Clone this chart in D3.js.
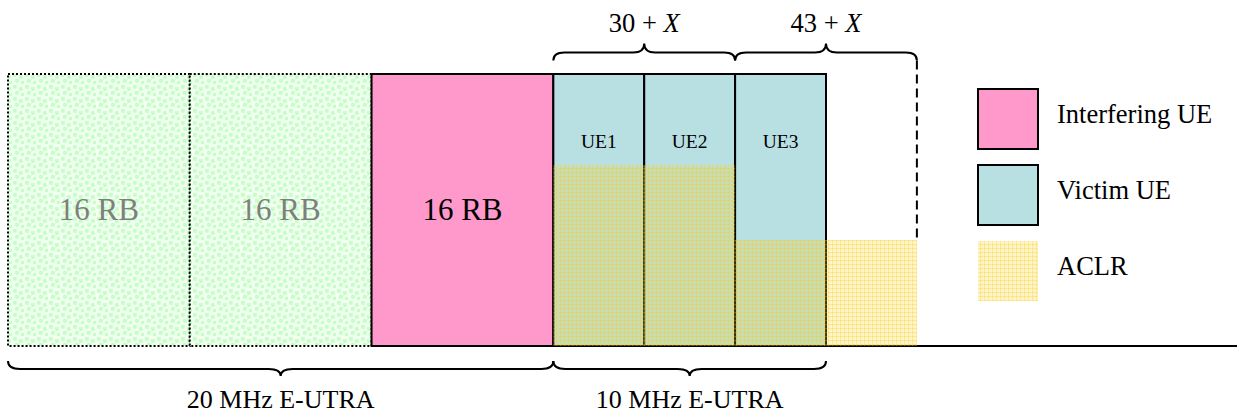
<!DOCTYPE html>
<html>
<head>
<meta charset="utf-8">
<script src="https://cdn.jsdelivr.net/npm/d3@7"></script>
<style>
html,body{margin:0;padding:0;background:#fff;}
svg{display:block;}
text{font-family:"Liberation Serif","Times New Roman",serif;}
</style>
</head>
<body>
<svg id="chart" width="1237" height="414"></svg>
<script>
// ---- data ----
const blockLabels = ["16 RB", "16 RB", "16 RB", "UE1", "UE2", "UE3"];
const blockKinds  = ["unused", "unused", "interferer", "victim", "victim", "victim"];
const blockSpans  = [2, 2, 2, 1, 1, 1];           // width in half-block units
const blockLevel  = 1;                             // relative power level
const aclrFrom    = [6, 8];
const aclrTo      = [8, 10];
const aclrLevels  = [0.665, 0.39];
const topBraceLabels = ["30 + ", "43 + "];
const topBraceFrom   = [6, 8];
const topBraceTo     = [8, 10];
const bottomBraceLabels = ["20 MHz E-UTRA", "10 MHz E-UTRA"];
const bottomBraceFrom   = [0, 6];
const bottomBraceTo     = [6, 9];
const dashedAt    = 10;
const dashedTop   = 1.05;
const legendNames = ["Interfering UE", "Victim UE", "ACLR"];
const legendKinds = ["interferer", "victim", "aclr"];

// ---- setup ----
const svg = d3.select("#chart");
const x = d3.scaleLinear().domain([0, 9]).range([8, 826]);
const y = d3.scaleLinear().domain([0, 1]).range([346, 74]);

const defs = svg.append("defs");
// green dotted pattern
const gp = defs.append("pattern").attr("id", "greenDots")
  .attr("patternUnits", "userSpaceOnUse").attr("width", 12).attr("height", 12);
gp.append("rect").attr("width", 12).attr("height", 12).attr("fill", "#f2fff2");
[[1,1,10],[7,3,-12],[3,7,15],[9,9,-8]].forEach(([px,py,a]) => {
  gp.append("rect").attr("x", px).attr("y", py).attr("width", 3.8).attr("height", 3.8)
    .attr("fill", "#c4ffc4").attr("transform", `rotate(${a},${px+1.9},${py+1.9})`);
});
// ACLR grid pattern
const ap = defs.append("pattern").attr("id", "aclr")
  .attr("patternUnits", "userSpaceOnUse").attr("width", 4).attr("height", 4);
ap.append("rect").attr("width", 4).attr("height", 4).attr("fill", "rgba(255,215,40,0.24)");
ap.append("rect").attr("width", 4).attr("height", 1.2).attr("fill", "rgba(245,205,30,0.3)");
ap.append("rect").attr("width", 1.2).attr("height", 4).attr("fill", "rgba(245,205,30,0.3)");

const fills = {unused: "url(#greenDots)", interferer: "#ff99cc", victim: "#b8dfe2", aclr: "url(#aclr)"};

// ---- baseline ----
svg.append("line").attr("x1", x(9)).attr("x2", 1237).attr("y1", y(0)).attr("y2", y(0))
  .attr("stroke", "#000").attr("stroke-width", 2);

// ---- blocks ----
const starts = blockSpans.map((s, i) => d3.sum(blockSpans.slice(0, i)));
const blocks = blockLabels.map((l, i) => ({label: l, kind: blockKinds[i], x0: starts[i], x1: starts[i] + blockSpans[i]}));

const bg = svg.append("g");
bg.selectAll("rect").data(blocks).join("rect")
  .attr("x", d => x(d.x0)).attr("y", y(blockLevel))
  .attr("width", d => x(d.x1) - x(d.x0)).attr("height", y(0) - y(blockLevel))
  .attr("fill", d => fills[d.kind])
  .attr("stroke", "#000")
  .attr("stroke-width", 2)
  .attr("stroke-dasharray", d => d.kind === "unused" ? "2,2" : null);

bg.selectAll("text").data(blocks).join("text")
  .attr("x", d => (x(d.x0) + x(d.x1)) / 2)
  .attr("y", d => d.kind === "victim" ? 148 : 220)
  .attr("text-anchor", "middle")
  .attr("font-size", d => d.kind === "victim" ? 19.5 : 31)
  .attr("fill", d => d.kind === "unused" ? "#7f7f7f" : "#000")
  .text(d => d.label);

// ---- ACLR overlay ----
svg.append("g").selectAll("rect").data(aclrLevels).join("rect")
  .attr("x", (d, i) => x(aclrFrom[i])).attr("y", d => y(d))
  .attr("width", (d, i) => x(aclrTo[i]) - x(aclrFrom[i]))
  .attr("height", d => y(0) - y(d))
  .attr("fill", fills.aclr);

// ---- dashed line ----
svg.append("line").attr("x1", x(dashedAt)).attr("x2", x(dashedAt))
  .attr("y1", y(dashedTop)).attr("y2", y(aclrLevels[1]))
  .attr("stroke", "#000").attr("stroke-width", 2).attr("stroke-dasharray", "9,5");

// ---- braces ----
function bracePath(x1, x2, y0, dir, h, d, r) {
  const xm = (x1 + x2) / 2, yh = y0 + dir * h, yt = y0 + dir * d;
  return `M${x1},${y0} Q${x1},${yh} ${x1 + r},${yh} L${xm - r},${yh} Q${xm},${yh} ${xm},${yt} ` +
         `Q${xm},${yh} ${xm + r},${yh} L${x2 - r},${yh} Q${x2},${yh} ${x2},${y0}`;
}
const tg = svg.append("g");
topBraceLabels.forEach((lab, i) => {
  const x1 = x(topBraceFrom[i]), x2 = x(topBraceTo[i]);
  tg.append("path").attr("d", bracePath(x1, x2, y(dashedTop), -1, 8, 17, 11))
    .attr("fill", "none").attr("stroke", "#000").attr("stroke-width", 2);
  const t = tg.append("text").attr("x", (x1 + x2) / 2).attr("y", 32)
    .attr("text-anchor", "middle").attr("font-size", 26.5);
  t.append("tspan").text(lab);
  t.append("tspan").attr("font-style", "italic").text("X");
});
bottomBraceLabels.forEach((lab, i) => {
  const x1 = x(bottomBraceFrom[i]), x2 = x(bottomBraceTo[i]);
  tg.append("path").attr("d", bracePath(x1, x2, 361, 1, 8, 15, 12))
    .attr("fill", "none").attr("stroke", "#000").attr("stroke-width", 2);
  tg.append("text").attr("x", (x1 + x2) / 2).attr("y", 408)
    .attr("text-anchor", "middle").attr("font-size", 26).text(lab);
});

// ---- legend ----
const lg = svg.append("g");
const ly = d3.scaleLinear().domain([0, 1]).range([89, 165]);
legendNames.forEach((n, i) => {
  lg.append("rect").attr("x", 978).attr("y", ly(i)).attr("width", 60).attr("height", 60)
    .attr("fill", fills[legendKinds[i]])
    .attr("stroke", legendKinds[i] === "aclr" ? "none" : "#000").attr("stroke-width", 2);
  lg.append("text").attr("x", 1057).attr("y", ly(i) + 34).attr("font-size", 26.5).text(n);
});
</script>
</body>
</html>
